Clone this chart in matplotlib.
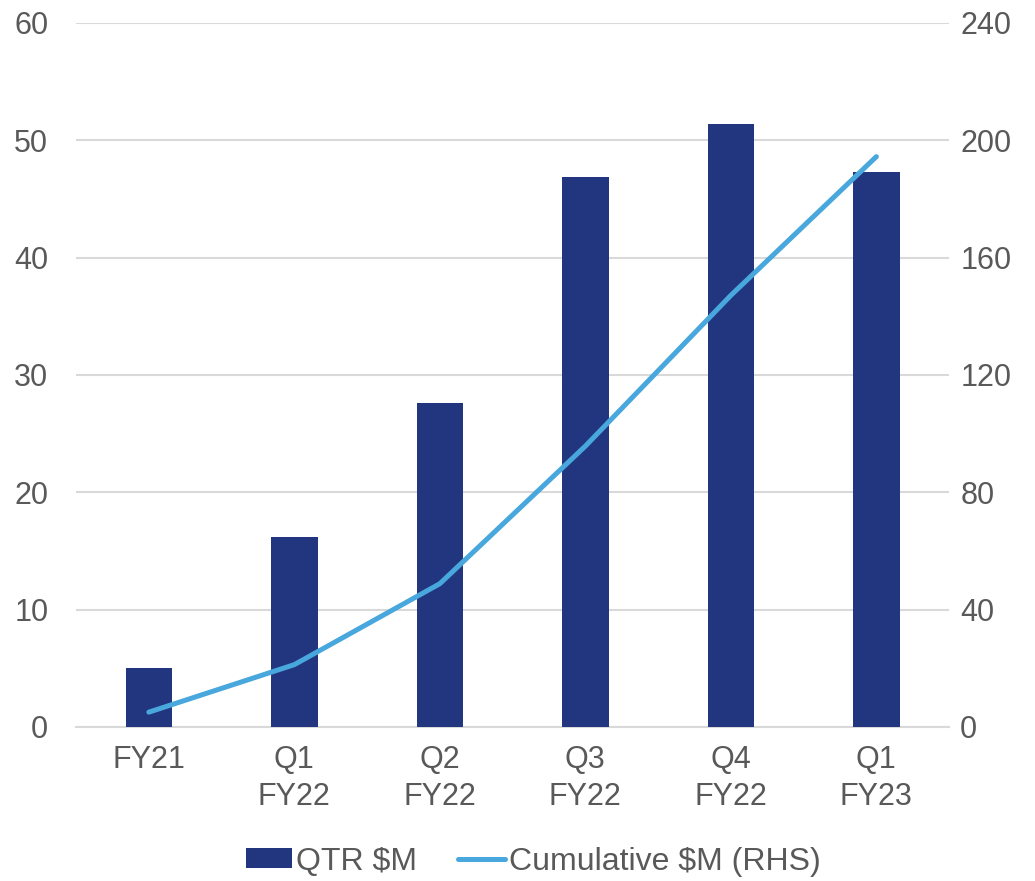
import numpy as np
import matplotlib.pyplot as plt

plt.rcParams['font.family'] = ['Liberation Sans', 'DejaVu Sans']

# 数据
categories = ['FY21', 'Q1\nFY22', 'Q2\nFY22', 'Q3\nFY22', 'Q4\nFY22', 'Q1\nFY23']
qtr = [5.0, 16.2, 27.6, 46.9, 51.4, 47.3]
cumulative = [5.0, 21.2, 48.8, 95.7, 147.1, 194.4]

bar_color = '#22367f'
line_color = '#48a7dc'
text_color = '#595959'
grid_color = '#d9d9d9'

fig = plt.figure(figsize=(10.35, 8.81), dpi=100)
ax = fig.add_axes([0.0735, 0.175, 0.8435, 0.799])
ax2 = ax.twinx()

x = np.arange(len(categories))
b = ax.bar(x, qtr, width=0.32, color=bar_color, zorder=3, label='QTR $M')
l, = ax2.plot(x, cumulative, color=line_color, lw=3.6, solid_capstyle='round',
              zorder=4, label='Cumulative $M (RHS)')

ax.set_xlim(-0.5, len(categories) - 0.5)
ax.set_ylim(0, 60)
ax2.set_ylim(0, 240)
ax.set_yticks(np.arange(0, 61, 10))
ax2.set_yticks(np.arange(0, 241, 40))
ax.set_xticks(x)
ax.set_xticklabels(categories, linespacing=1.3)

# 网格和边框
ax.grid(axis='y', color=grid_color, lw=1.5, zorder=0)
ax.set_axisbelow(True)
for a in (ax, ax2):
    for s in a.spines.values():
        s.set_visible(False)
    a.tick_params(length=0, labelsize=22, colors=text_color)
ax.spines['bottom'].set_visible(True)
ax.spines['bottom'].set_color(grid_color)
ax.spines['bottom'].set_linewidth(1.5)
ax.tick_params(axis='y', pad=20)
ax2.tick_params(axis='y', pad=8)
ax.tick_params(axis='x', pad=13)
ax2.set_zorder(ax.get_zorder() + 1)
ax2.patch.set_visible(False)

# 图例
fig.legend([b, l], ['QTR $M', 'Cumulative $M (RHS)'], loc='center',
           bbox_to_anchor=(0.515, 0.022), ncol=2, frameon=False,
           fontsize=23, labelcolor=text_color, handlelength=1.45,
           handletextpad=0.12, columnspacing=1.3, handleheight=0.6)

fig.savefig('out.png', dpi=100)
